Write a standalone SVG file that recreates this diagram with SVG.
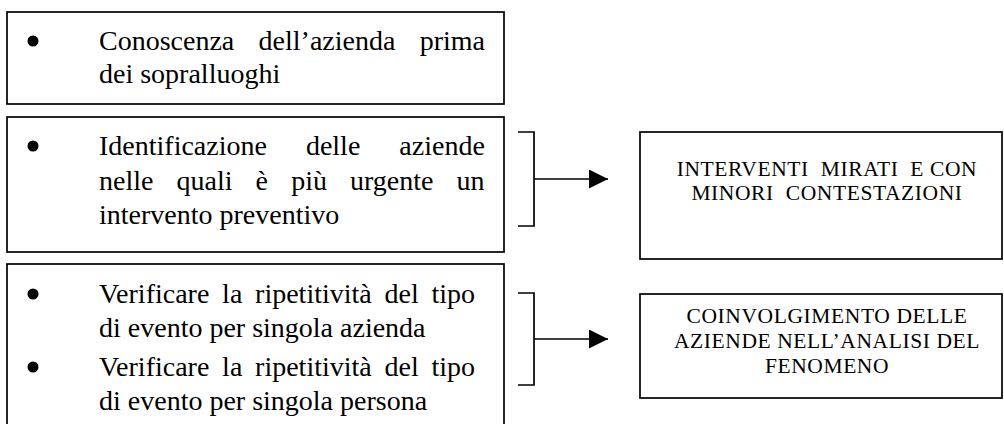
<svg xmlns="http://www.w3.org/2000/svg" width="1004" height="424" viewBox="0 0 1004 424">
<style>
.box{fill:#fff;stroke:#000;stroke-width:1.7}
.t{font-family:"Liberation Serif","Times New Roman",serif;font-size:28px;fill:#000}
.c{font-family:"Liberation Serif","Times New Roman",serif;font-size:21.5px;letter-spacing:0.6px;fill:#000;text-anchor:middle}
.bul{fill:#000}
.con{fill:none;stroke:#000;stroke-width:1.7}
</style>
<defs>
<marker id="ah" markerUnits="userSpaceOnUse" markerWidth="20" markerHeight="20" refX="19" refY="9.5" orient="auto">
<path d="M0 0 L19 9.5 L0 19 Z" fill="#000"/>
</marker>
</defs>
<rect width="1004" height="424" fill="#fff"/>
<g id="node1">
<rect class="box" x="7" y="12" width="497" height="92"/>
<circle class="bul" cx="33" cy="41" r="5.5"/>
<text class="t" x="99" y="50" word-spacing="17.3">Conoscenza dell’azienda prima</text>
<text class="t" x="99" y="83">dei sopralluoghi</text>
</g>
<g id="node2">
<rect class="box" x="7" y="117" width="497" height="135"/>
<circle class="bul" cx="33" cy="146" r="5.5"/>
<text class="t" x="99" y="155" word-spacing="32">Identificazione delle aziende</text>
<text class="t" x="99" y="190" word-spacing="16.1">nelle quali è più urgente un</text>
<text class="t" x="99" y="224">intervento preventivo</text>
</g>
<g id="node3">
<rect class="box" x="7" y="264" width="497" height="200"/>
<circle class="bul" cx="33" cy="294" r="5.5"/>
<text class="t" x="99" y="303" word-spacing="5.75">Verificare la ripetitività del tipo</text>
<text class="t" x="99" y="337">di evento per singola azienda</text>
<circle class="bul" cx="33" cy="367" r="5.5"/>
<text class="t" x="99" y="376" word-spacing="5.75">Verificare la ripetitività del tipo</text>
<text class="t" x="99" y="410">di evento per singola persona</text>
</g>
<g id="node4">
<rect class="box" x="640" y="132" width="362" height="127"/>
<text class="c" x="827" y="176">INTERVENTI&#160; MIRATI&#160; E CON</text>
<text class="c" x="827" y="200">MINORI&#160; CONTESTAZIONI</text>
</g>
<g id="node5">
<rect class="box" x="640" y="294" width="362" height="104"/>
<text class="c" x="827" y="323">COINVOLGIMENTO DELLE</text>
<text class="c" x="827" y="348">AZIENDE NELL’ANALISI DEL</text>
<text class="c" x="827" y="373">FENOMENO</text>
</g>
<g id="connectors">
<path class="con" d="M518 132 H534 V226 H518"/>
<path class="con" d="M534 179 H608" marker-end="url(#ah)"/>
<path class="con" d="M518 293 H534 V385 H518"/>
<path class="con" d="M534 339 H608" marker-end="url(#ah)"/>
</g>
</svg>
